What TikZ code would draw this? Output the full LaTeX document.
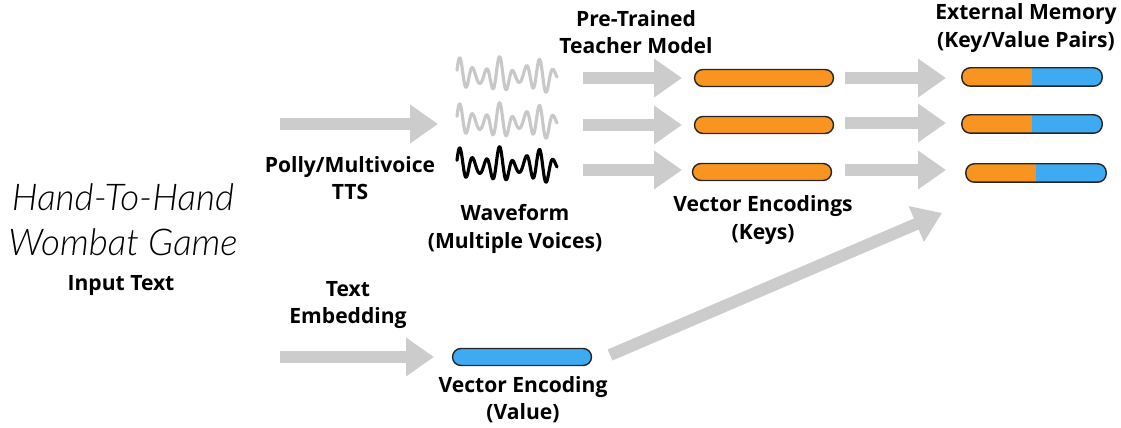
\documentclass[tikz,border=0pt]{standalone}
\usepackage{fontspec}
\setmainfont{Open Sans}
\newfontfamily\thinit{Lato Light Italic}
\usetikzlibrary{arrows.meta}
\definecolor{flowgray}{RGB}{204,204,204}
\definecolor{keyorange}{RGB}{250,148,32}
\definecolor{valblue}{RGB}{62,170,242}
\definecolor{wavegray}{RGB}{200,200,200}
\tikzset{
  flow/.style={draw=flowgray, line width=0.24cm,
    -{Triangle[length=0.56cm,width=0.74cm]}},
  lbl/.style={font=\bfseries\fontsize{12}{15.5}\selectfont, align=center, text=black},
  bar/.style={draw=black!85, line width=0.8pt, rounded corners=0.17cm,
    minimum width=2.78cm, minimum height=0.34cm, inner sep=0pt},
  wave/.style={line width=1.8pt, line join=round, line cap=round},
}
% a squiggle 100 units wide, centred on height #2, starting at #1
\newcommand{\wavepath}[2]{%
  plot[domain=0:100, samples=200, smooth]
  ({#1+\x}, {#2 - (11+6*sin(\x*9+70))*sin(\x*27+20) - 2.5*sin(\x*11)})}
\begin{document}
\begin{tikzpicture}[x=0.02cm, y=-0.02cm]
\useasboundingbox (0,0) rectangle (1121,428);

% input text
\node[font=\thinit\fontsize{21}{25.6}\selectfont, align=center] (phrase) at (123,220)
  {Hand-To-Hand\\Wombat Game};
\node[lbl] (input) at (121,286) {Input Text};

% TTS branch
\coordinate (ttsA) at (280,124);
\coordinate (ttsB) at (438,124);
\draw[flow] (ttsA) -- (ttsB);
\node[lbl] (tts) at (350,178) {Polly/Multivoice\\TTS};

% waveforms
\draw[wave, draw=wavegray] \wavepath{457}{76};
\draw[wave, draw=wavegray] \wavepath{457}{122};
\draw[wave, draw=black] \wavepath{457}{166};
\node[lbl] (wavelbl) at (515,229) {Waveform\\(Multiple Voices)};

% teacher model
\node[lbl] (teacher) at (636,32) {Pre-Trained\\Teacher Model};
\foreach \i/\y in {1/78,2/125,3/170}{
  \coordinate (ta\i) at (583,\y);
  \coordinate (tb\i) at (682,\y);
  \draw[flow] (ta\i) -- (tb\i);
}

% key encodings
\node[bar, fill=keyorange] (k1) at (764,78) {};
\node[bar, fill=keyorange] (k2) at (764,125) {};
\node[bar, fill=keyorange] (k3) at (762,172) {};
\node[lbl] (keylbl) at (763,220) {Vector Encodings\\(Keys)};

\foreach \i/\y in {1/78,2/123,3/170}{
  \coordinate (ma\i) at (845,\y);
  \coordinate (mb\i) at (946,\y);
  \draw[flow] (ma\i) -- (mb\i);
}

% external memory
\node[lbl] (memlbl) at (1026,28) {External Memory\\(Key/Value Pairs)};
\foreach \i/\x/\y in {1/1032/77,2/1032/124,3/1036/173}{
  \node[bar] (m\i) at (\x,\y) {};
  \begin{scope}
    \clip[rounded corners=0.17cm] (m\i.south west) rectangle (m\i.north east);
    \fill[keyorange] (m\i.south west) rectangle (m\i.north);
    \fill[valblue] (m\i.south) rectangle (m\i.north east);
  \end{scope}
  \draw[black!85, line width=0.8pt, rounded corners=0.17cm]
    (m\i.south west) rectangle (m\i.north east);
}

% value branch
\node[lbl] (embed) at (348,305) {Text\\Embedding};
\coordinate (ea) at (280,357);
\coordinate (eb) at (434,357);
\draw[flow] (ea) -- (eb);
\node[bar, fill=valblue] (v) at (522,357) {};
\node[lbl] (vallbl) at (523,400) {Vector Encoding\\(Value)};
\coordinate (da) at (610,355);
\coordinate (db) at (942,213);
\draw[flow] (da) -- (db);
\end{tikzpicture}
\end{document}
